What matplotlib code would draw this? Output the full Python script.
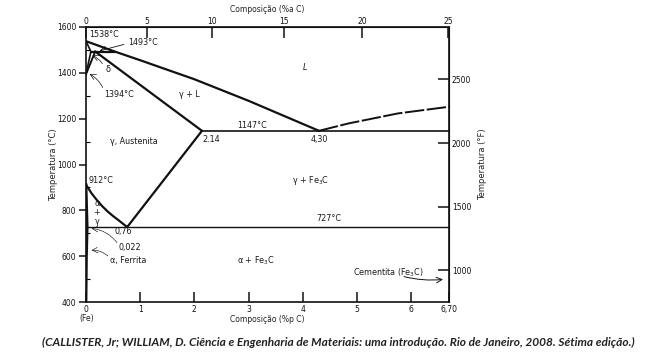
"""Fe-Fe3C phase diagram (Callister), redrawn from a scanned figure."""

import matplotlib

matplotlib.use("Agg")

import matplotlib.pyplot as plt
import numpy as np

# phase boundaries: (wt% C, temperature degC)
liquidus_w = [0.0, 0.53, 1.0, 2.0, 3.0, 4.30]
liquidus_t = [1538, 1493, 1455, 1372, 1278, 1147]
liquidus_fe3c_w = [4.30, 4.84, 5.76, 6.70]
liquidus_fe3c_t = [1147, 1179, 1223, 1252]
solidus_w = [0.17, 2.14]
solidus_t = [1493, 1147]
peritectic_w = [0.09, 0.53]
peritectic_t = [1493, 1493]
delta_w = [0.0, 0.09, 0.0]
delta_t = [1538, 1493, 1394]
gamma_delta_w = [0.17, 0.0]
gamma_delta_t = [1493, 1394]
a3_w = [0.0, 0.1, 0.2, 0.3, 0.4, 0.5, 0.6, 0.76]
a3_t = [912, 875, 845, 818, 795, 775, 757, 727]
acm_w = [0.76, 2.14]
acm_t = [727, 1147]
alpha_w = [0.0, 0.022, 0.008, 0.0]
alpha_t = [912, 727, 600, 400]
eutectic_w = [2.14, 6.70]
eutectic_t = [1147, 1147]
eutectoid_w = [0.022, 6.70]
eutectoid_t = [727, 727]

x_ticks = [0, 1, 2, 3, 4, 5, 6, 6.70]
x_labels = ["0", "1", "2", "3", "4", "5", "6", "6,70"]
y_ticks = [400, 600, 800, 1000, 1200, 1400, 1600]
top_ticks = [0, 5, 10, 15, 20, 25]
f_ticks = [1000, 1500, 2000, 2500]

INK = "#111111"


def wt_to_at(w):
    w = np.asarray(w, dtype=float)
    c = w / 12.011
    fe = (100 - w) / 55.845
    return 100 * c / (c + fe)


def at_to_wt(a):
    a = np.asarray(a, dtype=float)
    c = a * 12.011
    fe = (100 - a) * 55.845
    return 100 * c / (c + fe)


fig = plt.figure(figsize=(6.58, 3.52), dpi=100)
ax = fig.add_axes([0.1307, 0.142, 0.5517, 0.7813])
ax.set_xlim(0, 6.70)
ax.set_ylim(400, 1600)

thick = dict(color=INK, lw=1.6, solid_capstyle="round")
ax.plot(liquidus_w, liquidus_t, **thick)
ax.plot(liquidus_fe3c_w, liquidus_fe3c_t, color=INK, lw=1.4, ls=(0, (10, 1.3)))
ax.plot(solidus_w, solidus_t, **thick)
ax.plot(peritectic_w, peritectic_t, **thick)
ax.plot(delta_w, delta_t, color=INK, lw=1.2)
ax.plot(gamma_delta_w, gamma_delta_t, color=INK, lw=1.4)
ax.plot(a3_w, a3_t, **thick)
ax.plot(acm_w, acm_t, **thick)
ax.plot(alpha_w, alpha_t, color=INK, lw=2.0)
ax.plot(eutectic_w, eutectic_t, color=INK, lw=1.2)
ax.plot(eutectoid_w, eutectoid_t, color=INK, lw=1.0)

for s in ax.spines.values():
    s.set_linewidth(1.2)
    s.set_color(INK)

ax.set_xticks(x_ticks, x_labels)
ax.set_yticks(y_ticks)
ax.set_yticks(np.arange(500, 1600, 200), minor=True)
ax.tick_params(axis="x", direction="in", length=7, width=1.1, labelsize=5.5, pad=2, colors=INK)
ax.tick_params(axis="y", which="major", direction="out", length=5, width=1.1, labelsize=5.5, pad=2, colors=INK)
ax.tick_params(axis="y", which="minor", direction="in", length=3, width=0.8)
ax.set_ylabel("Temperatura (°C)", fontsize=6, labelpad=-1, color="#222222")
ax.set_xlabel("Composição (%p C)", fontsize=5.5, labelpad=1, color="#222222")

top = ax.secondary_xaxis("top", functions=(wt_to_at, at_to_wt))
top.set_xticks(top_ticks)
top.tick_params(direction="in", length=8, width=1.1, labelsize=5.5, pad=1, colors=INK)
top.set_xlabel("Composição (%a C)", fontsize=5.5, labelpad=3, color="#222222")

right = ax.secondary_yaxis("right", functions=(lambda c: c * 9 / 5 + 32, lambda f: (f - 32) * 5 / 9))
right.set_yticks(f_ticks)
right.tick_params(direction="in", length=8, width=1.1, labelsize=5.5, pad=2, colors=INK)
right.set_ylabel("Temperatura (°F)", fontsize=6, labelpad=5, color="#222222")

txt = dict(fontsize=5.8, color="#1a1a1a")
ax.text(0.05, 1568, "1538°C", va="center", ha="left", **txt)
ax.text(0.77, 1533, "1493°C", va="center", ha="left", **txt)
ax.annotate("", xy=(0.2, 1493), xytext=(0.75, 1527),
            arrowprops=dict(arrowstyle="->", color=INK, lw=0.6))
ax.text(0.4, 1415, "δ", va="center", ha="center", **txt)
ax.annotate("", xy=(0.07, 1480), xytext=(0.33, 1430),
            arrowprops=dict(arrowstyle="->", color=INK, lw=0.5, connectionstyle="arc3,rad=0.2"))
ax.text(0.33, 1306, "1394°C", va="center", ha="left", **txt)
ax.annotate("", xy=(0.02, 1400), xytext=(0.33, 1325),
            arrowprops=dict(arrowstyle="->", color=INK, lw=0.5, connectionstyle="arc3,rad=0.2"))
ax.text(1.9, 1306, "γ + L", va="center", ha="center", **txt)
ax.text(4.04, 1424, "L", va="center", ha="center", style="italic", **txt)
ax.text(3.06, 1172, "1147°C", va="center", ha="center", **txt)
ax.text(2.15, 1109, "2.14", va="center", ha="left", **txt)
ax.text(4.31, 1109, "4,30", va="center", ha="center", **txt)
ax.text(0.44, 1100, "γ, Austenita", va="center", ha="left", **txt)
ax.text(0.04, 932, "912°C", va="center", ha="left", **txt)
ax.text(0.2, 829, "α", va="center", ha="center", **txt)
ax.text(0.2, 792, "+", va="center", ha="center", **txt)
ax.text(0.2, 752, "γ", va="center", ha="center", **txt)
ax.text(4.15, 929, "γ + Fe$_3$C", va="center", ha="center", **txt)
ax.text(4.48, 763, "727°C", va="center", ha="center", **txt)
ax.text(0.68, 706, "0,76", va="center", ha="center", **txt)
ax.text(0.6, 636, "0,022", va="center", ha="left", **txt)
ax.annotate("", xy=(0.05, 722), xytext=(0.6, 650),
            arrowprops=dict(arrowstyle="->", color=INK, lw=0.5, ls=(0, (2, 1)),
                            connectionstyle="arc3,rad=0.25"))
ax.text(0.44, 579, "α, Ferrita", va="center", ha="left", **txt)
ax.annotate("", xy=(0.05, 625), xytext=(0.44, 593),
            arrowprops=dict(arrowstyle="->", color=INK, lw=0.5, ls=(0, (2, 1)),
                            connectionstyle="arc3,rad=0.25"))
ax.text(3.13, 579, "α + Fe$_3$C", va="center", ha="center", **txt)
ax.text(4.92, 527, "Cementita (Fe$_3$C)", va="center", ha="left", **txt)
ax.annotate("", xy=(6.64, 500), xytext=(5.82, 514),
            arrowprops=dict(arrowstyle="->", color=INK, lw=0.7, connectionstyle="arc3,rad=0.1"))

fig.text(87 / 658, 1 - 318 / 352, "(Fe)", fontsize=5.5, color="#222222", ha="center", va="center")
fig.text(338 / 658, 1 - 342 / 352,
         "(CALLISTER, Jr; WILLIAM, D. Ciência e Engenharia de Materiais: uma introdução. "
         "Rio de Janeiro, 2008. Sétima edição.)",
         fontsize=8.6, family="Lato", weight="bold", style="italic", color="#222222",
         ha="center", va="center")

fig.savefig("out.png", dpi=100, facecolor="white")
plt.close(fig)
